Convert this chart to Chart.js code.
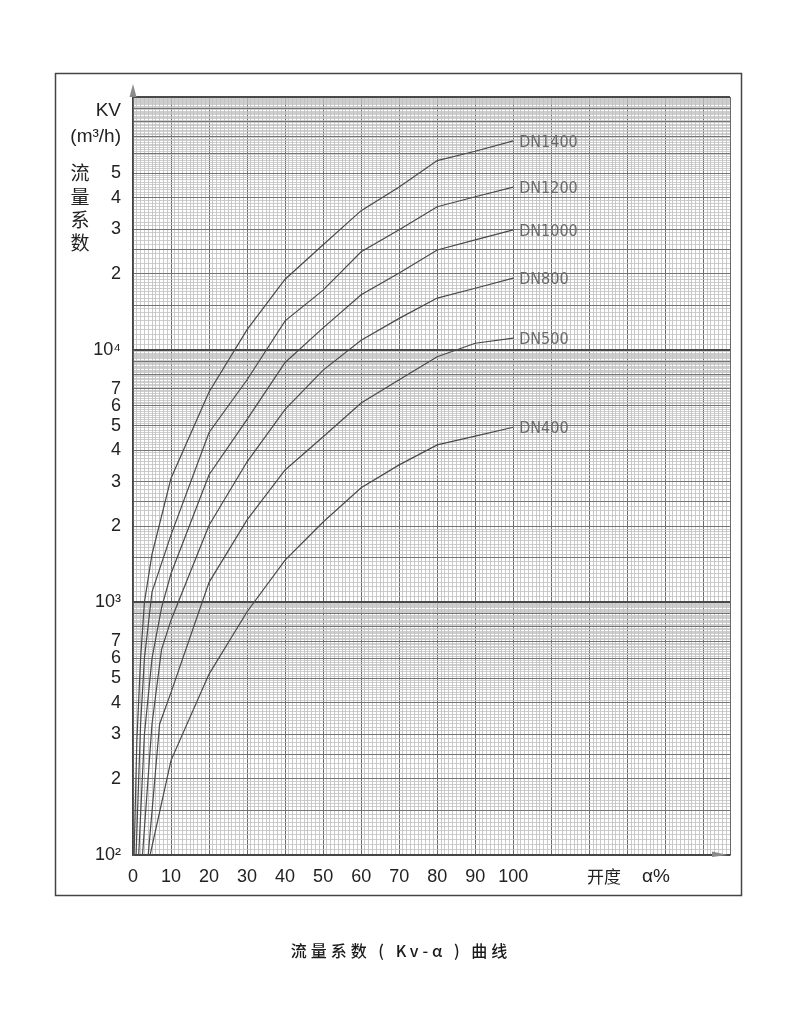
<!DOCTYPE html>
<html lang="zh">
<head>
<meta charset="utf-8">
<title>流量系数（Kv-α）曲线</title>
<script src="https://cdn.jsdelivr.net/npm/chart.js@4.4.1/dist/chart.umd.min.js"></script>
<style>
  html, body { margin: 0; padding: 0; background: #fff; }
  #wrap { width: 800px; height: 1028px; position: relative; }
</style>
</head>
<body>
<div id="wrap"><canvas id="kvChart" width="800" height="1028"></canvas></div>
<script>
// curve names, in order from top to bottom
const seriesNames = ['DN1400', 'DN1200', 'DN1000', 'DN800', 'DN500', 'DN400'];

// [opening α %, Kv m3/h]
const dn1400 = [[0.3, 100], [1, 280], [2, 600], [3, 1000], [5, 1550], [10, 3100], [20, 6800], [30, 12000], [40, 19000], [50, 26000], [60, 35500], [70, 44000], [80, 56000], [90, 61000], [100, 67000]];
const dn1200 = [[0.8, 100], [2, 330], [3, 600], [5, 1100], [10, 1850], [20, 4700], [30, 7600], [40, 13000], [50, 17200], [60, 24400], [70, 29800], [80, 36800], [90, 40300], [100, 44000]];
const dn1000 = [[1.5, 100], [3, 300], [5, 600], [7.5, 950], [10, 1300], [20, 3200], [30, 5300], [40, 8900], [50, 12200], [60, 16500], [70, 20100], [80, 24800], [90, 27200], [100, 29800]];
const dn800 = [[2.5, 100], [5, 330], [7.5, 650], [10, 850], [20, 2020], [30, 3600], [40, 5800], [50, 8300], [60, 10900], [70, 13300], [80, 16000], [90, 17500], [100, 19200]];
const dn500 = [[4, 100], [7, 330], [10, 440], [20, 1200], [30, 2120], [40, 3340], [50, 4520], [60, 6150], [70, 7600], [80, 9380], [90, 10600], [100, 11100]];
const dn400 = [[4.5, 100], [10, 237], [20, 520], [30, 918], [40, 1470], [50, 2080], [60, 2840], [70, 3500], [80, 4200], [90, 4550], [100, 4930]];
const seriesData = [dn1400, dn1200, dn1000, dn800, dn500, dn400];

// tick labels
const xTickLabels = [0, 10, 20, 30, 40, 50, 60, 70, 80, 90, 100];
const yLabelValues = [100, 200, 300, 400, 500, 600, 700, 1000, 2000, 3000, 4000, 5000, 6000, 7000, 10000, 20000, 30000, 40000, 50000];
const yLabelTexts = ['10²', '2', '3', '4', '5', '6', '7', '10³', '2', '3', '4', '5', '6', '7', '10⁴', '2', '3', '4', '5'];

// mantissas (x100) of the darker log-paper lines
const yMajorSteps = [100, 150, 200, 250, 300, 400, 500, 600, 700, 800, 900];

const X_MAX = 157;

function mantissa(v) {
    const d = Math.pow(10, Math.floor(Math.log10(v) + 1e-9));
    return Math.round(v / d * 100);
}

const decorPlugin = {
    id: 'decor',
    afterDraw(chart) {
        const ctx = chart.ctx;
        const area = chart.chartArea;
        ctx.save();

        // outer frame
        ctx.strokeStyle = '#444';
        ctx.lineWidth = 1.5;
        ctx.strokeRect(55.5, 73.5, 686, 822);

        // axis arrows
        ctx.fillStyle = '#8a8a8a';
        ctx.beginPath();
        ctx.moveTo(area.left, area.top - 13);
        ctx.lineTo(area.left - 3.5, area.top);
        ctx.lineTo(area.left + 3.5, area.top);
        ctx.closePath();
        ctx.fill();
        ctx.beginPath();
        ctx.moveTo(area.right - 2, area.bottom);
        ctx.lineTo(area.right - 18, area.bottom - 3.5);
        ctx.lineTo(area.right - 18, area.bottom + 2);
        ctx.closePath();
        ctx.fill();

        // y axis title
        ctx.fillStyle = '#222';
        ctx.textBaseline = 'middle';
        ctx.textAlign = 'right';
        ctx.font = '19px "Liberation Sans", Arial, sans-serif';
        ctx.fillText('KV', 121, 111);
        ctx.fillText('(m³/h)', 121, 137);
        ctx.textAlign = 'center';
        ctx.font = '19px "Noto Sans CJK SC", sans-serif';
        const vChars = ['流', '量', '系', '数'];
        const vY = [173, 197, 220, 243];
        vChars.forEach((ch, i) => ctx.fillText(ch, 80, vY[i]));

        // x axis title
        ctx.textAlign = 'left';
        ctx.font = '17px "Noto Sans CJK SC", sans-serif';
        ctx.fillText('开度', 587, 877);
        ctx.font = '19px "Liberation Sans", Arial, sans-serif';
        ctx.fillText('α%', 642, 877);

        // curve labels at the end of each line
        ctx.fillStyle = '#6a6a6a';
        ctx.font = '16px "Liberation Sans Narrow", "DejaVu Sans Condensed", sans-serif';
        chart.data.datasets.forEach((ds, i) => {
            const meta = chart.getDatasetMeta(i);
            const last = meta.data[meta.data.length - 1];
            ctx.fillText(ds.label, last.x + 6, last.y + 2);
        });

        // caption
        ctx.fillStyle = '#1a1a1a';
        ctx.textAlign = 'center';
        ctx.font = '500 16px "Noto Sans CJK SC", sans-serif';
        ctx.letterSpacing = '4px';
        ctx.fillText('流量系数 ( Kv-α ) 曲线', 401, 951);
        ctx.restore();
    }
};

const ctx = document.getElementById('kvChart').getContext('2d');
new Chart(ctx, {
    type: 'line',
    data: {
        datasets: seriesNames.map((name, i) => ({
            label: name,
            data: seriesData[i].map(p => ({ x: p[0], y: p[1] })),
            borderColor: '#4a4a4a',
            borderWidth: 1.2,
            pointRadius: 0,
            tension: 0,
            fill: false
        }))
    },
    options: {
        responsive: false,
        animation: false,
        layout: { padding: { left: 0, right: 70, top: 97, bottom: 133 } },
        plugins: { legend: { display: false }, tooltip: { enabled: false } },
        scales: {
            x: {
                type: 'linear',
                min: 0,
                max: X_MAX,
                afterBuildTicks: s => {
                    s.ticks = [];
                    for (let v = 0; v <= X_MAX; v++) s.ticks.push({ value: v });
                },
                afterFit: s => { s.height = 40; },
                ticks: {
                    autoSkip: false,
                    maxRotation: 0,
                    padding: 11,
                    color: '#222',
                    font: { family: '"Liberation Sans", Arial, sans-serif', size: 18 },
                    callback: v => xTickLabels.includes(v) ? String(v) : ''
                },
                grid: {
                    drawTicks: false,
                    color: c => (c.tick.value % 10 === 0 || c.tick.value === X_MAX) ? '#6a6a6a' : '#bdbdbd',
                    lineWidth: c => (c.tick.value % 10 === 0 || c.tick.value === X_MAX) ? 1 : 0.8
                },
                border: { display: true, color: '#444', width: 1.5 }
            },
            y: {
                type: 'logarithmic',
                min: 100,
                max: 100000,
                afterBuildTicks: s => {
                    s.ticks = [];
                    [100, 1000, 10000].forEach(d => {
                        for (let k = 100; k < 1000; k += (k < 200 ? 5 : 10)) {
                            s.ticks.push({ value: k * d / 100 });
                        }
                    });
                    s.ticks.push({ value: 100000 });
                },
                afterFit: s => { s.width = 133; },
                ticks: {
                    autoSkip: false,
                    padding: 12,
                    color: '#222',
                    font: { family: '"Liberation Sans", Arial, sans-serif', size: 18 },
                    callback: v => {
                        const i = yLabelValues.indexOf(Math.round(v));
                        return i >= 0 ? yLabelTexts[i] : '';
                    }
                },
                grid: {
                    drawTicks: false,
                    color: c => {
                        const k = mantissa(c.tick.value);
                        if (k === 100) return '#4a4a4a';
                        return yMajorSteps.includes(k) ? '#747474' : '#c2c2c2';
                    },
                    lineWidth: c => {
                        const k = mantissa(c.tick.value);
                        if (k === 100) return 2;
                        return yMajorSteps.includes(k) ? 1 : 0.8;
                    }
                },
                border: { display: true, color: '#444', width: 1.5 }
            }
        }
    },
    plugins: [decorPlugin]
});
</script>
</body>
</html>
